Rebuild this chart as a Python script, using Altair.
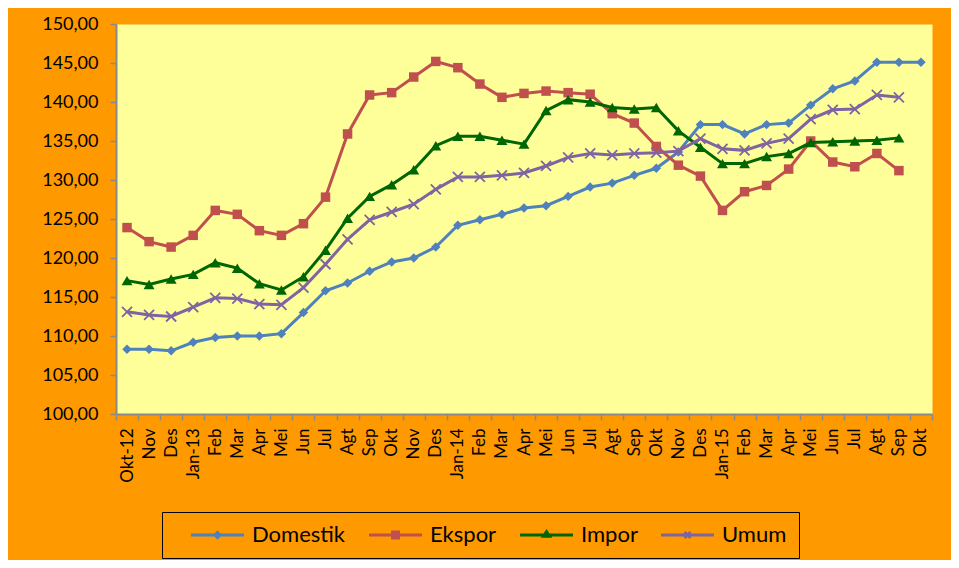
import altair as alt
import pandas as pd

months = ["Okt-12", "Nov", "Des", "Jan-13", "Feb", "Mar", "Apr", "Mei", "Jun", "Jul",
          "Agt", "Sep", "Okt", "Nov", "Des", "Jan-14", "Feb", "Mar", "Apr", "Mei",
          "Jun", "Jul", "Agt", "Sep", "Okt", "Nov", "Des", "Jan-15", "Feb", "Mar",
          "Apr", "Mei", "Jun", "Jul", "Agt", "Sep", "Okt"]

series_names = ["Domestik", "Ekspor", "Impor", "Umum"]
colors = ["#4F81BD", "#C0504D", "#006600", "#8064A2"]

domestik = [108.3, 108.3, 108.1, 109.2, 109.8, 110.0, 110.0, 110.3, 113.0, 115.8,
            116.8, 118.3, 119.5, 120.0, 121.4, 124.2, 124.9, 125.6, 126.4, 126.7,
            127.9, 129.1, 129.6, 130.6, 131.5, 133.6, 137.1, 137.1, 135.9, 137.1,
            137.3, 139.6, 141.7, 142.7, 145.1, 145.1, 145.1]
ekspor = [123.9, 122.1, 121.4, 122.9, 126.1, 125.6, 123.5, 122.9, 124.4, 127.8,
          135.9, 140.9, 141.2, 143.2, 145.2, 144.4, 142.3, 140.6, 141.1, 141.4,
          141.2, 141.0, 138.5, 137.3, 134.3, 131.9, 130.5, 126.1, 128.5, 129.3,
          131.4, 135.0, 132.3, 131.7, 133.4, 131.2]
impor = [117.1, 116.6, 117.3, 117.9, 119.4, 118.7, 116.7, 115.9, 117.6, 121.0,
         125.1, 127.9, 129.4, 131.3, 134.4, 135.6, 135.6, 135.1, 134.6, 138.9,
         140.3, 140.0, 139.3, 139.1, 139.3, 136.3, 134.2, 132.1, 132.1, 133.0,
         133.4, 134.8, 134.9, 135.0, 135.1, 135.4]
umum = [113.1, 112.7, 112.5, 113.7, 114.9, 114.8, 114.1, 114.0, 116.2, 119.2,
        122.4, 124.9, 125.9, 126.9, 128.8, 130.4, 130.4, 130.6, 130.9, 131.8,
        132.9, 133.4, 133.2, 133.4, 133.5, 133.7, 135.3, 134.0, 133.8, 134.7,
        135.3, 137.8, 139.0, 139.1, 140.9, 140.6]

rows = []
for name, vals in zip(series_names, [domestik, ekspor, impor, umum]):
    for i, v in enumerate(vals):
        rows.append({"idx": i, "series": name, "value": v})
df = pd.DataFrame(rows)

FONT = "Lato"
label_expr = "[" + ",".join("'" + m + "'" for m in months) + "][datum.value]"

x_enc = alt.X(
    "idx:O",
    scale=alt.Scale(type="band", paddingInner=0, paddingOuter=0,
                    domain=list(range(len(months)))),
    axis=alt.Axis(title=None, labelExpr=label_expr, labelAngle=-90, tickBand="extent",
                  labelFont=FONT, labelFontSize=17, labelColor="black",
                  tickSize=6, labelPadding=8, domainColor="#8A8A8A", tickColor="#8A8A8A",
                  domainWidth=2, tickWidth=1.5, grid=False),
)
y_enc = alt.Y(
    "value:Q",
    scale=alt.Scale(domain=[100, 150], nice=False, zero=False),
    axis=alt.Axis(title=None, values=list(range(100, 151, 5)),
                  labelExpr="replace(format(datum.value, '.2f'), '.', ',')",
                  labelFont=FONT, labelFontSize=18, labelColor="black",
                  tickSize=6, labelPadding=12, domainColor="#8A8A8A", tickColor="#8A8A8A",
                  domainWidth=2, tickWidth=1.5, grid=False),
)

base = alt.Chart(df).encode(x=x_enc, y=y_enc)

marker_specs = [
    ("diamond", 90, True),
    ("square", 90, True),
    ("triangle-up", 120, True),
    ("M-1,-1L1,1M-1,1L1,-1", 100, False),
]
layers = []
for name, col, (shp, sz, fil) in zip(series_names, colors, marker_specs):
    sub = base.transform_filter(alt.datum.series == name)
    layers.append(sub.mark_line(strokeWidth=3, color=col))
    layers.append(sub.mark_point(shape=shp, size=sz, filled=fil, opacity=1,
                                 strokeWidth=1.8, color=col))

legend_paths = [
    "M-1,0H7.83M3.42,-0.42L3.84,0L3.42,0.42L3,0Z",
    "M-1,0H7.83M2.92,-0.5H3.92V0.5H2.92Z",
    "M-1,0H7.83M3.42,-0.55L3.92,0.2L2.92,0.2Z",
    "M-1,0H7.83M2.92,-0.5L3.92,0.5M2.92,0.5L3.92,-0.5",
]
pad = "\u00a0" * 7
leg = alt.Legend(title="\u2003", titleOrient="left", titleFontSize=8, titlePadding=12,
                 orient="none", legendX=46, legendY=488,
                 direction="horizontal", symbolSize=144, symbolStrokeWidth=3,
                 symbolOpacity=1, labelOffset=44, labelFont=FONT, labelFontSize=22,
                 labelColor="black", strokeColor="black", padding=12, columnPadding=17,
                 labelExpr="datum.label == 'Umum' ? 'Umum" + pad + "' : datum.label")
legend_layer = (
    base.transform_filter("false")
    .mark_point(filled=False, strokeWidth=3)
    .encode(
        color=alt.Color("series:N", scale=alt.Scale(domain=series_names, range=colors),
                        legend=leg),
        shape=alt.Shape("series:N", scale=alt.Scale(domain=series_names, range=legend_paths),
                        legend=leg),
    )
)

chart = (
    alt.layer(*layers, legend_layer)
    .properties(width=816, height=390, autosize="none",
                padding={"left": 108, "top": 16, "right": 19, "bottom": 146},
                background="#FF9900")
    .configure_view(fill="#FFFF99", stroke="transparent")
)

chart.save("out.html", embed_options={"renderer": "svg", "actions": False})
